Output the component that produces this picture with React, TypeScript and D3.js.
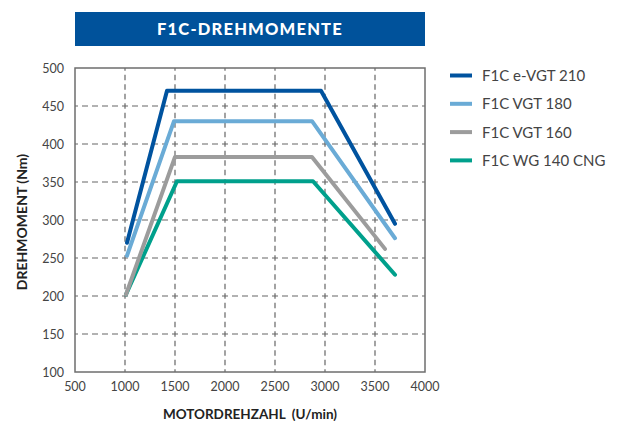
import React from "react";
import * as d3 from "d3";

const xTicks = [500, 1000, 1500, 2000, 2500, 3000, 3500, 4000];
const yTicks = [100, 150, 200, 250, 300, 350, 400, 450, 500];

const seriesNames = ["F1C e-VGT 210", "F1C VGT 180", "F1C VGT 160", "F1C WG 140 CNG"];
const seriesColors = ["#00539f", "#6aabd6", "#9c9c9c", "#00a08c"];

const rpm210 = [1020, 1420, 2960, 3700];
const nm210 = [270, 470, 470, 295];
const rpm180 = [1020, 1490, 2870, 3700];
const nm180 = [253, 430, 430, 276];
const rpm160 = [1010, 1500, 2870, 3600];
const nm160 = [202, 383, 383, 262];
const rpm140 = [1010, 1520, 2880, 3700];
const nm140 = [202, 351, 351, 228];

const seriesRpm = [rpm210, rpm180, rpm160, rpm140];
const seriesNm = [nm210, nm180, nm160, nm140];

const W = 621;
const H = 421;
const left = 75, right = 425, top = 68, bottom = 372;
const FONT = "Lato, 'Open Sans', sans-serif";

export default function App() {
  const x = d3.scaleLinear().domain([500, 4000]).range([left, right]);
  const y = d3.scaleLinear().domain([100, 500]).range([bottom, top]);
  const line = d3
    .line<[number, number]>()
    .x((d) => x(d[0]))
    .y((d) => y(d[1]))
    .curve(d3.curveLinear);

  return (
    <svg width={W} height={H} style={{ position: "absolute", left: 0, top: 0 }}>
      <rect x={0} y={0} width={W} height={H} fill="#fff" />
      <rect x={75} y={12} width={350} height={34} fill="#00529b" />
      <text
        x={250}
        y={35}
        textAnchor="middle"
        fill="#fff"
        fontFamily={FONT}
        fontWeight={900}
        fontSize={16.5}
        letterSpacing={1.2}
      >
        F1C-DREHMOMENTE
      </text>

      {/* grid */}
      {xTicks.slice(1, -1).map((t) => (
        <line
          key={"gx" + t}
          x1={x(t)}
          x2={x(t)}
          y1={top}
          y2={bottom}
          stroke="#666"
          strokeWidth={1.2}
          strokeDasharray="5.5,4"
          strokeDashoffset={2.75}
        />
      ))}
      {yTicks.slice(1, -1).map((t) => (
        <line
          key={"gy" + t}
          x1={left}
          x2={right}
          y1={y(t)}
          y2={y(t)}
          stroke="#666"
          strokeWidth={1.2}
          strokeDasharray="6,4"
          strokeDashoffset={3}
        />
      ))}
      <rect
        x={left}
        y={top}
        width={right - left}
        height={bottom - top}
        fill="none"
        stroke="#6e6e6e"
        strokeWidth={1.5}
      />

      {/* tick labels */}
      {yTicks.map((t) => (
        <text
          key={"ly" + t}
          x={64}
          y={y(t) + 4.5}
          textAnchor="end"
          fontFamily={FONT}
          fontSize={12.5}
          fill="#444"
        >
          {t}
        </text>
      ))}
      {xTicks.map((t) => (
        <text
          key={"lx" + t}
          x={x(t)}
          y={391}
          textAnchor="middle"
          fontFamily={FONT}
          fontSize={12.5}
          fill="#444"
        >
          {t}
        </text>
      ))}

      <text
        x={250}
        y={419}
        textAnchor="middle"
        fontFamily={FONT}
        fontWeight={700}
        fontSize={13.5}
        fill="#222"
      >
        {"MOTORDREHZAHL\u00a0 (U/min)"}
      </text>
      <text
        transform={`translate(27,${(top + bottom) / 2 + 2}) rotate(-90)`}
        textAnchor="middle"
        fontFamily={FONT}
        fontWeight={700}
        fontSize={14}
        fill="#222"
      >
        DREHMOMENT (Nm)
      </text>

      {/* series */}
      {seriesRpm.map((rs, i) => (
        <path
          key={"s" + i}
          d={line(rs.map((r, j) => [r, seriesNm[i][j]] as [number, number])) || ""}
          fill="none"
          stroke={seriesColors[i]}
          strokeWidth={4}
          strokeLinejoin="round"
          strokeLinecap="round"
        />
      )).reverse()}

      {/* legend */}
      {seriesNames.map((n, i) => (
        <g key={"lg" + i} transform={`translate(450,${75.5 + i * 28.3})`}>
          <line x1={0} x2={22} y1={0} y2={0} stroke={seriesColors[i]} strokeWidth={4} />
          <text x={32} y={5.5} fontFamily={FONT} fontSize={15} fill="#444">
            {n}
          </text>
        </g>
      ))}
    </svg>
  );
}
